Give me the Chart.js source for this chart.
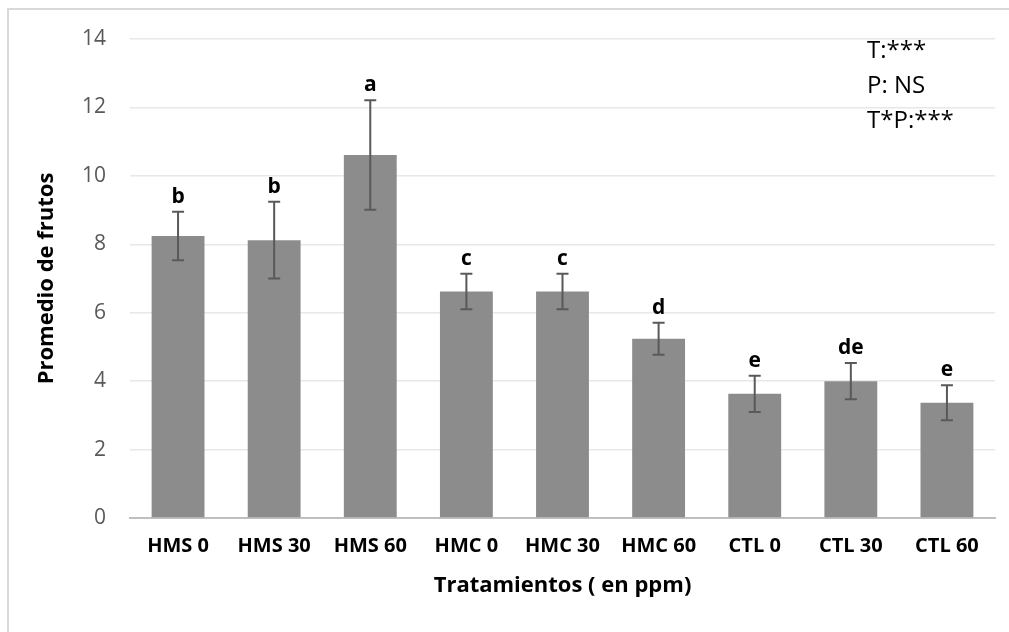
<!DOCTYPE html>
<html>
<head>
<meta charset="utf-8">
<script src="https://cdn.jsdelivr.net/npm/chart.js@4"></script>
<style>
  html, body { margin: 0; padding: 0; background: #fff; }
  #wrap { position: relative; width: 1009px; height: 632px; overflow: hidden; }
  #frame { position: absolute; left: 7px; top: 8px; width: 1100px; height: 700px;
           border-left: 2px solid #d9d9d9; border-top: 2px solid #d9d9d9; }
  #note { position: absolute; left: 867px; top: 31px; font-family: "Open Sans", sans-serif;
          font-size: 24px; line-height: 35px; color: #000; }
  canvas { position: absolute; left: 0; top: 0; }
</style>
</head>
<body>
<div id="wrap">
  <div id="frame"></div>
  <canvas id="chart" width="1009" height="632"></canvas>
  <div id="note">T:***<br>P: NS<br>T*P:***</div>
</div>
<script>
var categories = ['HMS 0', 'HMS 30', 'HMS 60', 'HMC 0', 'HMC 30', 'HMC 60', 'CTL 0', 'CTL 30', 'CTL 60'];
var means = [8.24, 8.12, 10.61, 6.62, 6.62, 5.24, 3.63, 4.0, 3.37];
var errors = [0.71, 1.12, 1.6, 0.52, 0.52, 0.47, 0.53, 0.53, 0.51];
var letters = ['b', 'b', 'a', 'c', 'c', 'd', 'e', 'de', 'e'];
var yTicks = [0, 2, 4, 6, 8, 10, 12, 14];

var fontFam = '"Open Sans", sans-serif';

// error bars and significance letters
var errorBars = {
    id: 'errorBars',
    afterDatasetsDraw: function(chart) {
        var ctx = chart.ctx;
        var meta = chart.getDatasetMeta(0);
        var y = chart.scales.y;
        ctx.save();
        ctx.strokeStyle = '#595959';
        ctx.lineWidth = 2;
        meta.data.forEach(function(bar, i) {
            var top = y.getPixelForValue(means[i] + errors[i]);
            var bot = y.getPixelForValue(means[i] - errors[i]);
            ctx.beginPath();
            ctx.moveTo(bar.x, top); ctx.lineTo(bar.x, bot);
            ctx.moveTo(bar.x - 6, top); ctx.lineTo(bar.x + 6, top);
            ctx.moveTo(bar.x - 6, bot); ctx.lineTo(bar.x + 6, bot);
            ctx.stroke();
            ctx.fillStyle = '#000';
            ctx.font = 'bold 21px ' + fontFam;
            ctx.textAlign = 'center';
            ctx.textBaseline = 'alphabetic';
            ctx.fillText(letters[i], bar.x, top - 9);
        });
        ctx.restore();
    }
};

var ctx = document.getElementById('chart').getContext('2d');
var chart = new Chart(ctx, {
    type: 'bar',
    data: {
        labels: categories,
        datasets: [{
            data: means,
            backgroundColor: '#8c8c8c',
            barPercentage: 0.55,
            categoryPercentage: 1
        }]
    },
    options: {
        responsive: false,
        animation: false,
        layout: { padding: { left: 0, top: 39, right: 14, bottom: 0 } },
        scales: {
            x: {
                grid: { display: false, drawTicks: false },
                border: { color: '#bfbfbf', width: 2 },
                ticks: { color: '#000', font: { family: fontFam, size: 20, weight: 'bold' }, padding: 16 },
                title: { display: true, text: 'Tratamientos ( en ppm)', color: '#000',
                         font: { family: fontFam, size: 22, weight: 'bold' }, padding: { top: 8, bottom: 33 } },
                afterFit: function(s) { s.height = 114; }
            },
            y: {
                min: 0, max: 14,
                afterBuildTicks: function(s) { s.ticks = yTicks.map(function(v) { return { value: v }; }); },
                grid: { color: '#e8e8e8', lineWidth: 1.5, drawTicks: false },
                border: { display: false },
                ticks: { color: '#595959', font: { family: fontFam, size: 21 }, padding: 24 },
                title: { display: true, text: 'Promedio de frutos', color: '#000',
                         font: { family: fontFam, size: 22, weight: 'bold' }, padding: { top: 34 } },
                afterFit: function(s) { s.width = 130; }
            }
        },
        plugins: {
            legend: { display: false },
            tooltip: { enabled: false }
        }
    },
    plugins: [errorBars]
});
</script>
</body>
</html>
